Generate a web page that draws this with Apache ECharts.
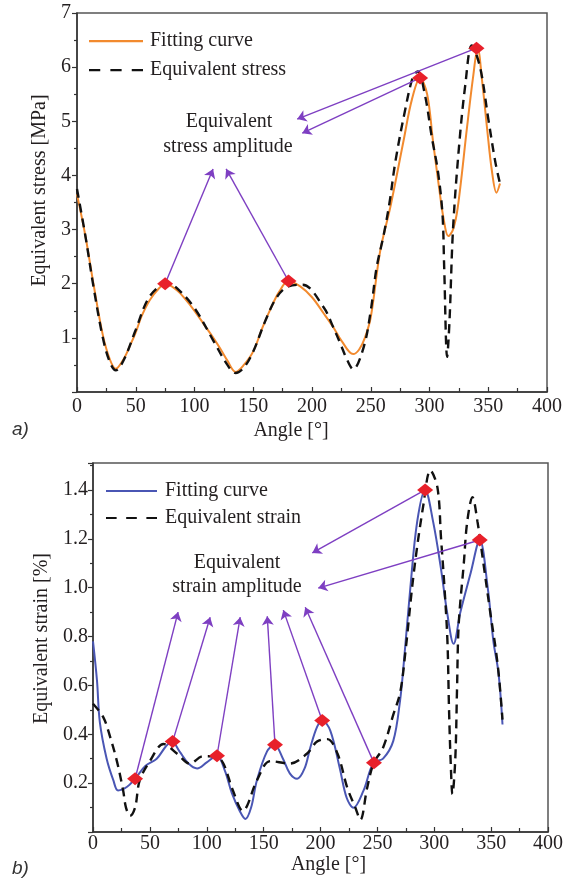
<!DOCTYPE html>
<html><head><meta charset="utf-8">
<script src="https://cdn.jsdelivr.net/npm/echarts@6/dist/echarts.min.js"></script>
<style>html,body{margin:0;padding:0;background:#fff}#c{width:577px;height:880px}</style>
</head><body><div id="c"></div>
<script>
// ---------- (a) Equivalent stress ----------
const stressFitAngle = [0,7,14,22,28,33,40,45,50,55,62,70,75,85,92,100,108,116,122,128,135,142,150,158,165,172,180,190,200,210,218,225,235,240,245,250,258,267,278,285,292,298,303,308,312,316,320,324,332,337,341,345,349,353,357,360];
const stressFitValue = [3.65,2.9,2.0,1.05,0.6,0.43,0.62,0.85,1.1,1.4,1.7,1.92,2.0,1.88,1.72,1.5,1.25,1.0,0.8,0.58,0.37,0.5,0.75,1.2,1.55,1.85,2.05,1.95,1.75,1.45,1.2,0.95,0.7,0.78,1.0,1.38,2.6,3.45,4.65,5.4,5.8,5.5,4.63,3.8,3.2,2.88,3.0,3.4,4.9,5.8,6.35,5.7,4.87,4.1,3.68,3.85];
const stressAngle = [0,7,14,22,28,33,40,50,60,70,78,85,100,116,128,135,142,150,160,170,180,192,210,218,224,230,235,244,250,255,261,266,271,279,286,290,296,302,307,311,312.5,315,317,320,325,330.5,336,343,350,356,360];
const stressValue = [3.75,2.9,1.95,1.0,0.55,0.4,0.6,1.15,1.7,1.95,2.0,1.92,1.55,0.95,0.5,0.35,0.45,0.75,1.3,1.75,1.95,1.98,1.56,1.2,0.9,0.59,0.42,0.83,1.5,2.3,2.9,3.5,4.26,5.18,5.83,5.92,5.5,4.7,4.1,3.3,2.3,0.65,1.3,3.0,4.5,5.68,6.4,6.0,5.05,4.25,3.85];
const stressPeakAngle = [75,180,292,340];
const stressPeakValue = [2.0,2.05,5.8,6.35];
const stressTipAngle = [115.8,126.9,191.7,187.4];
const stressTipValue = [4.12,4.12,4.78,5.04];
const stressYTicks = [0,1,2,3,4,5,6,7];

// ---------- (b) Equivalent strain ----------
const strainFitAngle = [0,3.5,6,12,18,22,30,37,46,56,64,69.5,76,84,91.5,100,109,116,122,129,134,139,144,153,159.6,167,173,179.5,186,191,197,201.5,208.6,217,223,229,237.7,246.6,255,264,270,273,279,285,292,299,305.5,311.6,317,323,332,340,347,352,356.5,360];
const strainFitValue = [0.78,0.62,0.45,0.3,0.21,0.17,0.185,0.218,0.27,0.3,0.35,0.37,0.33,0.28,0.26,0.285,0.312,0.25,0.16,0.086,0.053,0.1,0.21,0.33,0.357,0.30,0.24,0.218,0.26,0.345,0.43,0.456,0.415,0.26,0.14,0.099,0.168,0.283,0.30,0.373,0.54,0.68,1.0,1.27,1.40,1.27,1.09,0.89,0.77,0.9,1.06,1.195,1.0,0.78,0.65,0.44];
const strainAngle = [0,9,15,21,26.5,29,32.6,37,41,50,62,74,85,97,108,114.6,123,132,135.5,144,156,173,188,197,206,215,223.6,230.6,235,241,246.6,255,264,270,274.6,282,290.5,296.6,302.8,306,309,311.6,313,314.5,316,318.5,320,321.5,326,329,333.6,338,343.5,349.5,354,357,360];
const strainValue = [0.525,0.47,0.39,0.29,0.17,0.1,0.066,0.1,0.21,0.29,0.36,0.32,0.28,0.31,0.31,0.28,0.17,0.086,0.107,0.21,0.29,0.28,0.32,0.37,0.38,0.32,0.18,0.1,0.05,0.18,0.28,0.345,0.48,0.57,0.735,1.06,1.34,1.48,1.41,1.2,1.0,0.78,0.5,0.28,0.155,0.3,0.58,0.85,1.1,1.27,1.37,1.27,1.09,0.89,0.75,0.63,0.46];
const strainPeakAngle = [37,70,109,160,201.5,247,292,340];
const strainPeakValue = [0.218,0.37,0.312,0.357,0.456,0.283,1.40,1.195];
const strainTipAngle = [74.8,103,129.4,153.2,167.3,186.6,192.8,198];
const strainTipValue = [0.90,0.879,0.879,0.883,0.908,0.92,1.142,0.998];

const angleTicks = [0,50,100,150,200,250,300,350,400];

const zip = (a,b) => a.map((x,i)=>[x,b[i]]);
const SERIF = '"Liberation Serif","Times New Roman",serif';
const TXT = '#231f20';
const ORANGE = '#f28a2e', BLUE = '#4a56b4', PURPLE = '#7e3fc2', RED = '#e8202a';
const SOLID_ICON = 'path://M0,0h48v2h-48z';
const DASH_ICON = 'path://M0,0h10v2h-10zM19,0h10v2h-10zM38,0h10v2h-10z';

function xAxisCfg(grid, nameGap, namePad, labelMargin){
  return {
    gridIndex:grid, type:'value', min:angleTicks[0], max:angleTicks[angleTicks.length-1], interval:50,
    axisLine:{lineStyle:{color:'#333',width:1.5}},
    axisTick:{inside:true,length:5,lineStyle:{color:'#333',width:1.2}},
    minorTick:{show:true,splitNumber:2,length:4,lineStyle:{color:'#333',width:1.2}},
    splitLine:{show:false},
    axisLabel:{fontFamily:SERIF,fontSize:20,color:TXT,margin:labelMargin},
    name:'Angle [°]', nameLocation:'middle', nameGap:nameGap,
    nameTextStyle:{fontFamily:SERIF,fontSize:20,color:TXT,padding:namePad}
  };
}
function arrows(pa,pv,ta,tv){
  return pa.map((a,i)=>[{coord:[a,pv[i]]},{coord:[ta[i],tv[i]]}]);
}

const chart = echarts.init(document.getElementById('c'));
chart.setOption({
  animation:false,
  backgroundColor:'#fff',
  grid:[
    {left:77,top:13,width:470,height:379,show:true,borderColor:'#555',borderWidth:1.5},
    {left:93,top:463,width:455,height:369,show:true,borderColor:'#555',borderWidth:1.5}
  ],
  xAxis:[ xAxisCfg(0,29,[0,42,0,0],5), xAxisCfg(1,17,[0,0,0,16],2) ],
  yAxis:[
    {gridIndex:0,type:'value',min:stressYTicks[0],max:stressYTicks[stressYTicks.length-1],interval:1,
     axisLine:{show:true,lineStyle:{color:'#333',width:1.5}},
     axisTick:{show:true,inside:false,length:5,lineStyle:{color:'#333',width:1.2}},
     minorTick:{show:true,splitNumber:2,length:3,lineStyle:{color:'#333',width:1.2}},
     splitLine:{show:false},
     axisLabel:{showMinLabel:false,fontFamily:SERIF,fontSize:20,color:TXT,margin:6},
     name:'Equivalent stress [MPa]',nameLocation:'middle',nameGap:23,
     nameTextStyle:{fontFamily:SERIF,fontSize:20,color:TXT,padding:[0,0,0,24]}},
    {gridIndex:1,type:'value',min:0,max:1.51,interval:0.2,
     axisLine:{show:true,lineStyle:{color:'#333',width:1.5}},
     axisTick:{show:true,inside:false,length:5,lineStyle:{color:'#333',width:1.2}},
     minorTick:{show:true,splitNumber:2,length:3,lineStyle:{color:'#333',width:1.2}},
     splitLine:{show:false},
     axisLabel:{showMinLabel:false,showMaxLabel:false,fontFamily:SERIF,fontSize:20,color:TXT,margin:5,
       formatter:v=>v.toFixed(1)},
     name:'Equivalent strain [%]',nameLocation:'middle',nameGap:38,
     nameTextStyle:{fontFamily:SERIF,fontSize:20,color:TXT,padding:[0,0,0,18]}}
  ],
  legend:[
    {data:[{name:'Fitting curve (a)',icon:SOLID_ICON},{name:'Equivalent stress',icon:DASH_ICON}],
     orient:'vertical',left:89,top:31,padding:0,itemWidth:54,itemHeight:2.5,itemGap:9,
     formatter:n=>n.replace(/ \(.\)$/,''),textStyle:{fontFamily:SERIF,fontSize:20,color:TXT,padding:[0,0,0,2]},selectedMode:false},
    {data:[{name:'Fitting curve (b)',icon:SOLID_ICON},{name:'Equivalent strain',icon:DASH_ICON}],
     orient:'vertical',left:106,top:481,padding:0,itemWidth:51,itemHeight:2.5,itemGap:7,
     formatter:n=>n.replace(/ \(.\)$/,''),textStyle:{fontFamily:SERIF,fontSize:20,color:TXT,padding:[0,0,0,3]},selectedMode:false}
  ],
  series:[
    {name:'Fitting curve (a)',type:'line',xAxisIndex:0,yAxisIndex:0,data:zip(stressFitAngle,stressFitValue),
     smooth:0.35,symbol:'none',lineStyle:{color:ORANGE,width:2},itemStyle:{color:ORANGE},z:2},
    {name:'Equivalent stress',type:'line',xAxisIndex:0,yAxisIndex:0,data:zip(stressAngle,stressValue),
     smooth:0.35,symbol:'none',lineStyle:{color:'#111',width:2.4,type:[9,6]},itemStyle:{color:'#111'},z:3},
    {name:'stress amplitude',type:'scatter',xAxisIndex:0,yAxisIndex:0,data:zip(stressPeakAngle,stressPeakValue),
     symbol:'diamond',symbolSize:[16,13],itemStyle:{color:RED,opacity:1},z:5,silent:true,
     markLine:{silent:true,symbol:['none','arrow'],symbolSize:9,label:{show:false},
       lineStyle:{color:PURPLE,width:1.4,type:'solid',opacity:1},data:arrows(stressPeakAngle,stressPeakValue,stressTipAngle,stressTipValue)}},
    {name:'Fitting curve (b)',type:'line',xAxisIndex:1,yAxisIndex:1,data:zip(strainFitAngle,strainFitValue),
     smooth:0.35,symbol:'none',lineStyle:{color:BLUE,width:2},itemStyle:{color:BLUE},z:2},
    {name:'Equivalent strain',type:'line',xAxisIndex:1,yAxisIndex:1,data:zip(strainAngle,strainValue),
     smooth:0.35,symbol:'none',lineStyle:{color:'#111',width:2.4,type:[9,6]},itemStyle:{color:'#111'},z:3},
    {name:'strain amplitude',type:'scatter',xAxisIndex:1,yAxisIndex:1,data:zip(strainPeakAngle,strainPeakValue),
     symbol:'diamond',symbolSize:[16,13],itemStyle:{color:RED,opacity:1},z:5,silent:true,
     markLine:{silent:true,symbol:['none','arrow'],symbolSize:9,label:{show:false},
       lineStyle:{color:PURPLE,width:1.4,type:'solid',opacity:1},data:arrows(strainPeakAngle,strainPeakValue,strainTipAngle,strainTipValue)}}
  ],
  graphic:[
    {type:'text',x:229,y:122,style:{text:'Equivalent',font:'20px '+SERIF,fill:TXT,align:'center',verticalAlign:'middle'}},
    {type:'text',x:228,y:147,style:{text:'stress amplitude',font:'20px '+SERIF,fill:TXT,align:'center',verticalAlign:'middle'}},
    {type:'text',x:237,y:563,style:{text:'Equivalent',font:'20px '+SERIF,fill:TXT,align:'center',verticalAlign:'middle'}},
    {type:'text',x:237,y:587,style:{text:'strain amplitude',font:'20px '+SERIF,fill:TXT,align:'center',verticalAlign:'middle'}},
    {type:'text',x:12,y:430,style:{text:'a)',font:'italic 19px "Liberation Sans", sans-serif',fill:'#333',align:'left',verticalAlign:'middle'}},
    {type:'text',x:12,y:869,style:{text:'b)',font:'italic 19px "Liberation Sans", sans-serif',fill:'#333',align:'left',verticalAlign:'middle'}}
  ]
});
</script></body></html>
